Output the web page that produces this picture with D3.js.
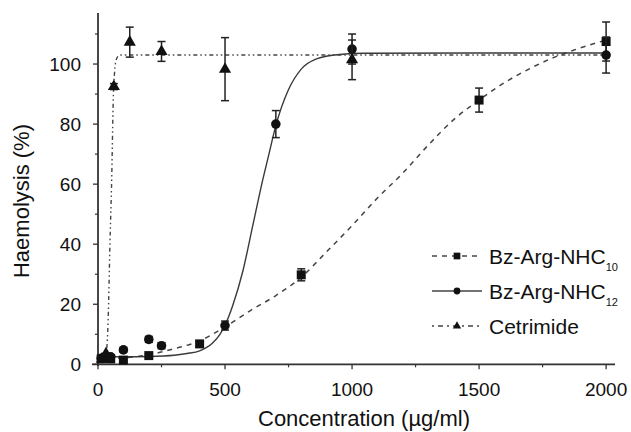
<!DOCTYPE html>
<html>
<head>
<meta charset="utf-8">
<script src="https://cdn.jsdelivr.net/npm/d3@7"></script>
<style>
  body { margin: 0; background: #fff; }
  svg { display: block; font-family: "Liberation Sans", Arial, sans-serif; }
</style>
</head>
<body>
<svg width="631" height="432"></svg>
<script>
var svg = d3.select("svg");
var width = 631;
var height = 432;

// measured points (concentration, haemolysis, error)
var c10X   = [12.5, 25, 50, 100, 200, 400, 800, 1500, 2000];
var c10Y   = [1.8, 2.0, 1.8, 1.4, 2.9, 6.8, 29.8, 88, 107.5];
var c10Err = [0, 0, 0, 0, 0.5, 1, 2, 4, 6.5];

var c12X   = [12.5, 25, 50, 100, 200, 250, 500, 700, 1000, 2000];
var c12Y   = [2.0, 2.3, 2.5, 4.8, 8.3, 6.2, 12.9, 80, 105, 103];
var c12Err = [0, 0, 0, 0.8, 1, 1, 1.5, 4.5, 5, 6];

var cetX   = [15.6, 31.25, 62.5, 125, 250, 500, 1000];
var cetY   = [1.8, 3.5, 92.5, 107.3, 104.2, 98.3, 101.4];
var cetErr = [0, 0, 1, 5, 3.3, 10.5, 6.6];

// fitted curves
var c10FitX = [0, 100, 200, 300, 400, 500, 600, 700, 800, 900, 1000, 1100, 1200, 1300, 1400, 1500, 1600, 1700, 1800, 1900, 2000];
var c10FitY = [2, 2.2, 3.2, 5.2, 7.8, 12.5, 17.9, 22.9, 29, 37.5, 46.2, 55.4, 63.7, 73, 81.5, 88, 93.8, 98.5, 102.4, 105.4, 108];

var c12FitX = [0, 100, 200, 300, 350, 400, 450, 480, 500, 530, 570, 610, 650, 670, 700, 750, 800, 860, 950, 1050, 2000];
var c12FitY = [2.5, 2.5, 2.6, 3.0, 3.6, 4.5, 7, 10, 13, 19.5, 31, 46.5, 62, 69, 79.5, 91.5, 98.3, 101.7, 103.2, 103.6, 103.7];

var cetFitX = [0, 25, 34, 40, 47, 54, 60, 65, 72, 85, 2000];
var cetFitY = [2, 2.5, 5, 15, 40, 62, 88, 97, 101.5, 103, 103];

var xTicks = [0, 500, 1000, 1500, 2000];
var xMinor = [250, 750, 1250, 1750];
var yTicks = [0, 20, 40, 60, 80, 100];
var yMinor = [10, 30, 50, 70, 90, 110];

var seriesNames = ["Bz-Arg-NHC", "Bz-Arg-NHC", "Cetrimide"];
var seriesSubs  = ["10", "12", ""];

var x = d3.scaleLinear().domain([0, 2035]).range([98, 615]);
var y = d3.scaleLinear().domain([0, 117]).range([364.3, 13]);

var ink = "#111";
var lineInk = "#3a3a3a";

// axes
var xAxis = svg.append("g").attr("transform", "translate(0,364.3)");
xAxis.append("line").attr("x1", 92).attr("x2", 615).attr("stroke", "#333").attr("stroke-width", 1.8);
xAxis.selectAll(".maj").data(xTicks).enter().append("line")
    .attr("x1", d => x(d)).attr("x2", d => x(d)).attr("y1", 0).attr("y2", 5)
    .attr("stroke", "#333").attr("stroke-width", 1.3);
xAxis.selectAll(".min").data(xMinor).enter().append("line")
    .attr("x1", d => x(d)).attr("x2", d => x(d)).attr("y1", 0).attr("y2", 3)
    .attr("stroke", "#333").attr("stroke-width", 1.2);
xAxis.selectAll("text").data(xTicks).enter().append("text")
    .attr("x", d => x(d)).attr("y", 32)
    .attr("text-anchor", "middle").attr("font-size", 19).attr("fill", ink)
    .text(d => d);

var yAxis = svg.append("g").attr("transform", "translate(98,0)");
yAxis.append("line").attr("y1", 13).attr("y2", 366).attr("stroke", "#333").attr("stroke-width", 1.8);
yAxis.selectAll(".maj").data(yTicks).enter().append("line")
    .attr("y1", d => y(d)).attr("y2", d => y(d)).attr("x1", -5).attr("x2", 0)
    .attr("stroke", "#333").attr("stroke-width", 1.3);
yAxis.selectAll(".min").data(yMinor).enter().append("line")
    .attr("y1", d => y(d)).attr("y2", d => y(d)).attr("x1", -3).attr("x2", 0)
    .attr("stroke", "#333").attr("stroke-width", 1.2);
yAxis.selectAll("text").data(yTicks).enter().append("text")
    .attr("x", -17).attr("y", d => y(d)).attr("dy", "0.36em")
    .attr("text-anchor", "end").attr("font-size", 19).attr("fill", ink)
    .text(d => d);

// axis titles
svg.append("text")
    .attr("x", 364).attr("y", 426)
    .attr("text-anchor", "middle").attr("font-size", 22).attr("fill", ink)
    .text("Concentration (\u00b5g/ml)");

svg.append("text")
    .attr("transform", "translate(29,201) rotate(-90)")
    .attr("text-anchor", "middle").attr("font-size", 22).attr("fill", ink)
    .text("Haemolysis (%)");

// fitted lines
var line = d3.line().x(d => x(d[0])).y(d => y(d[1])).curve(d3.curveMonotoneX);

svg.append("path").datum(d3.zip(c10FitX, c10FitY))
    .attr("d", line).attr("fill", "none")
    .attr("stroke", "#444").attr("stroke-width", 1.5).attr("stroke-dasharray", "5,5");

svg.append("path").datum(d3.zip(c12FitX, c12FitY))
    .attr("d", line).attr("fill", "none")
    .attr("stroke", lineInk).attr("stroke-width", 1.4);

svg.append("path").datum(d3.zip(cetFitX, cetFitY))
    .attr("d", line).attr("fill", "none")
    .attr("stroke", "#444").attr("stroke-width", 1.4).attr("stroke-dasharray", "4,3,1.5,3,1.5,3");

// error bars + markers
function drawSeries(xs, ys, errs, symType, size) {
    var pts = d3.zip(xs, ys, errs);
    var g = svg.append("g");
    var withErr = pts.filter(d => d[2] > 0);
    g.selectAll(".bar").data(withErr).enter().append("line")
        .attr("x1", d => x(d[0])).attr("x2", d => x(d[0]))
        .attr("y1", d => y(d[1] - d[2])).attr("y2", d => y(d[1] + d[2]))
        .attr("stroke", "#222").attr("stroke-width", 1.5);
    [1, -1].forEach(s => {
        g.selectAll(".cap" + s).data(withErr).enter().append("line")
            .attr("x1", d => x(d[0]) - 4).attr("x2", d => x(d[0]) + 4)
            .attr("y1", d => y(d[1] + s * d[2])).attr("y2", d => y(d[1] + s * d[2]))
            .attr("stroke", "#222").attr("stroke-width", 1.5);
    });
    g.selectAll("path").data(pts).enter().append("path")
        .attr("transform", d => "translate(" + x(d[0]) + "," + y(d[1]) + ")")
        .attr("d", d3.symbol().type(symType).size(size))
        .attr("fill", ink);
}

drawSeries(c10X, c10Y, c10Err, d3.symbolSquare, 81);
drawSeries(c12X, c12Y, c12Err, d3.symbolCircle, 72);
drawSeries(cetX, cetY, cetErr, d3.symbolTriangle, 64);

// legend
var legendTypes = [d3.symbolSquare, d3.symbolCircle, d3.symbolTriangle];
var legendSizes = [45, 36, 30];
var legendDash = ["5,5", null, "2,4,5,4"];
var legend = svg.append("g").attr("transform", "translate(432,256)");

seriesNames.forEach((name, i) => {
    var row = legend.append("g").attr("transform", "translate(0," + (i * 35) + ")");
    row.append("line").attr("x1", 0).attr("x2", 50)
        .attr("stroke", "#444").attr("stroke-width", 1.4)
        .attr("stroke-dasharray", legendDash[i]);
    row.append("path").attr("transform", "translate(25,0)")
        .attr("d", d3.symbol().type(legendTypes[i]).size(legendSizes[i]))
        .attr("fill", ink);
    var t = row.append("text").attr("x", 57).attr("y", 0).attr("dy", "0.36em")
        .attr("font-size", 21).attr("fill", ink).text(name);
    if (seriesSubs[i]) {
        t.append("tspan").attr("dy", 7).attr("font-size", 11).text(seriesSubs[i]);
    }
});
</script>
</body>
</html>
